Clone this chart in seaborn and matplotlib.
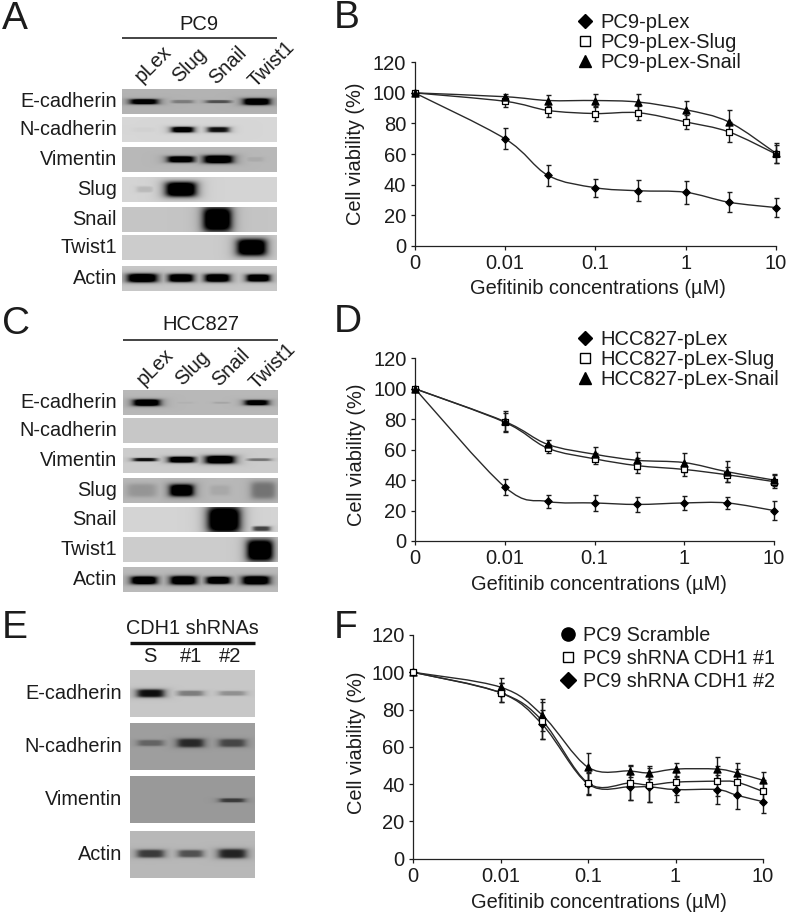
import numpy as np
import pandas as pd
import matplotlib
matplotlib.use("Agg")
import matplotlib.pyplot as plt
from matplotlib.path import Path
from matplotlib.patches import PathPatch
from matplotlib.lines import Line2D
import seaborn as sns

sns.set_style("ticks")
plt.rcParams['font.family'] = ['Liberation Sans', 'DejaVu Sans']
W, H = 788, 916
INK = "#1c1c1c"

# ---------- viability data ----------
dose_labels = ["0", "0.01", "0.1", "1", "10"]
dose_8 = [0, 0.01, 0.03, 0.1, 0.3, 1, 3, 10]
dose_10 = [0, 0.01, 0.03, 0.1, 0.3, 0.5, 1, 3, 5, 10]

b_plex = [100, 70, 46, 38, 36, 35, 28.5, 25]
b_plex_err = [0, 7, 7, 6, 7, 7.5, 6.5, 6]
b_slug = [100, 94.5, 88.5, 86.5, 87, 81, 74.5, 60]
b_slug_err = [0, 3.5, 4, 5, 4.5, 4.5, 6.5, 6]
b_snail = [100, 97.5, 95, 95, 94, 89, 81, 60.5]
b_snail_err = [0, 2, 3.5, 4.5, 5, 6, 8, 6.5]

d_plex = [100, 35.5, 26, 25, 24, 25, 25, 20]
d_plex_err = [0, 5.5, 4, 5.5, 5, 4.5, 4, 6.5]
d_slug = [100, 78, 61, 54, 49.5, 47, 43.5, 39]
d_slug_err = [0, 6, 3, 3.5, 5, 4.5, 5, 4.5]
d_snail = [100, 78.5, 63.5, 57, 53, 51.5, 45.5, 40]
d_snail_err = [0, 7, 3, 4.5, 5.5, 6, 7, 4]

f_top = [100, 92, 77, 49, 47, 46, 48, 48, 46, 42]
f_top_err = [0, 5, 8.5, 7.5, 3, 3.5, 3.5, 6.5, 5.5, 4.5]
f_sq = [100, 89, 74, 40.5, 40.5, 39.5, 41, 41.5, 41, 36]
f_sq_err = [0, 5, 10, 6, 9, 9, 7, 8, 7, 6]
f_dia = [100, 89, 72, 40, 38.5, 38.5, 37, 37, 34, 30.5]
f_dia_err = [0, 5, 8, 6, 7, 8, 6.5, 8, 7.5, 6]

b_legend = ["PC9-pLex", "PC9-pLex-Slug", "PC9-pLex-Snail"]
d_legend = ["HCC827-pLex", "HCC827-pLex-Slug", "HCC827-pLex-Snail"]
f_legend = ["PC9 Scramble", "PC9 shRNA CDH1 #1", "PC9 shRNA CDH1 #2"]

# ---------- blot data: per row, band darkness per lane (0-1) ----------
a_rows = ["E-cadherin", "N-cadherin", "Vimentin", "Slug", "Snail", "Twist1", "Actin"]
a_lanes = ["pLex", "Slug", "Snail", "Twist1"]
a_bg = [.70, .84, .72, .83, .77, .80, .78]
a_dark = [[.9, .25, .45, 1], [.02, .9, .75, 0], [0, .95, 1, .06], [.1, 1, 0, 0],
          [0, 0, 1, 0], [0, 0, 0, 1], [1, 1, 1, 1]]
a_cx = [[432, 548, 655, 770], [432, 548, 655, 770], [432, 543, 655, 765], [435, 543, 655, 770],
        [432, 548, 652, 770], [432, 548, 655, 755], [427, 543, 652, 775]]
a_bw = [[85, 65, 75, 80], [70, 68, 65, 50], [60, 80, 88, 50], [50, 92, 60, 60],
        [60, 60, 85, 60], [60, 60, 60, 88], [90, 75, 75, 70]]
a_bh = [[16, 10, 9, 20], [14, 17, 16, 10], [20, 19, 24, 14], [18, 44, 20, 20],
        [40, 40, 72, 40], [40, 40, 40, 50], [26, 24, 24, 22]]
a_cy = [305, 390, 478, 568, 658, 743, 833]
a_top = [267, 352, 441, 531, 621, 706, 797]

c_rows = a_rows
c_lanes = a_lanes
c_bg = [.72, .78, .80, .72, .83, .80, .73]
c_dark = [[1, .03, .08, .9], [0, 0, 0, 0], [.75, 1, 1, .35], [.15, 1, .07, .3],
          [0, 0, 1, .55], [0, 0, 0, 1], [1, 1, 1, 1]]
c_cx = [[440, 555, 665, 770], [440, 555, 665, 770], [435, 545, 660, 778], [425, 545, 660, 790],
        [440, 555, 672, 785], [440, 555, 665, 780], [432, 550, 655, 768]]
c_bw = [[80, 50, 50, 72], [50, 50, 50, 50], [70, 78, 88, 70], [90, 72, 60, 75],
        [50, 50, 98, 52], [50, 50, 50, 78], [78, 78, 72, 82]]
c_bh = [[20, 6, 6, 16], [10, 10, 10, 10], [10, 18, 24, 8], [40, 36, 30, 52],
        [40, 40, 78, 14], [40, 40, 40, 64], [24, 26, 22, 26]]
c_cy = [308, 392, 480, 572, 660, 750, 840]
c_top = [270, 355, 445, 535, 622, 710, 800]

e_rows = ["E-cadherin", "N-cadherin", "Vimentin", "Actin"]
e_lanes = ["S", "#1", "#2"]
e_bg = [.78, .62, .60, .72]
e_dark = [[.75, .30, .22], [.30, .60, .45], [0, 0, .50], [.55, .45, .65]]
e_cx = [[452, 572, 697]] * 4
e_bw = [[82, 78, 80], [78, 80, 80], [60, 60, 75], [82, 75, 84]]
e_bh = [[24, 16, 14], [18, 26, 24], [12, 12, 12], [24, 22, 28]]
e_cy = [280, 428, 600, 760]
e_top = [210, 368, 527, 692]


fig = plt.figure(figsize=(W / 100, H / 100), dpi=100)
fig.patch.set_facecolor("white")


def ptext(x, y, s, size, ha="center", va="center", **kw):
    fig.text(x / W, 1 - y / H, s, fontsize=size, ha=ha, va=va, color=INK, **kw)


def phline(x0, x1, y, lw):
    fig.add_artist(Line2D([x0 / W, x1 / W], [1 - y / H] * 2, color="#111111", lw=lw,
                          solid_capstyle="butt"))


def draw_blot(rows, lanes, bg, dark, cx, bw, bh, cy, top, yoff, x0, x1, row_h, lab_x, extra_y=None):
    """Zoom units are 3 per pixel; every row is a small greyscale heatmap."""
    for r, name in enumerate(rows):
        y0 = yoff + top[r] / 3
        y1 = y0 + row_h
        ax = fig.add_axes([x0 / W, 1 - y1 / H, (x1 - x0) / W, row_h / H])
        xs = (np.arange(int(x1 - x0)) + .5) + x0
        ys = (np.arange(int(row_h)) + .5) + y0
        X, Y = np.meshgrid(xs, ys)
        shade = np.zeros_like(X)
        for l in range(len(lanes)):
            band_y = cy[r] / 3 + yoff
            if extra_y and (r, l) in extra_y:
                band_y = extra_y[(r, l)] / 3 + yoff
            dx = (X - cx[r][l] / 3) / (bw[r][l] / 6)
            dy = (Y - band_y) / (bh[r][l] / 6)
            rad = (dx ** 4 + dy ** 4) ** .25
            shade = np.maximum(shade, dark[r][l] / (1 + rad ** 6))
        img = bg[r] * (1 - np.clip(shade * 1.25, 0, 1))
        sns.heatmap(img, ax=ax, cmap="gray", vmin=0, vmax=1, cbar=False,
                    xticklabels=False, yticklabels=False, linewidths=0, rasterized=True)
        ptext(lab_x, (y0 + y1) / 2, name, 14.3, ha="right")


draw_blot(a_rows, a_lanes, a_bg, a_dark, a_cx, a_bw, a_bh, a_cy, a_top, 0, 122, 277, 25, 117)
draw_blot(c_rows, c_lanes, c_bg, c_dark, c_cx, c_bw, c_bh, c_cy, c_top, 300, 123, 278, 25, 117,
          extra_y={(4, 3): 687})
draw_blot(e_rows, e_lanes, e_bg, e_dark, e_cx, e_bw, e_bh, e_cy, e_top, 600, 130, 255, 47, 122)

# blot headers
ptext(199, 24, "PC9", 14.5)
phline(122, 277, 38, 1.1)
for x, y, s in zip([153, 190, 228, 272], [64, 65, 65, 64], a_lanes):
    ptext(x, y, s, 14.3, rotation=45)
ptext(201, 325, "HCC827", 14.5)
phline(123, 278, 340, 1.1)
for x, y, s in zip([155, 193, 231, 273], [367, 368, 367, 366], c_lanes):
    ptext(x, y, s, 14.3, rotation=45)
ptext(192, 628, "CDH1 shRNAs", 14.3)
phline(130, 255, 642.5, 2.4)
for x, s in zip([150, 191, 230], e_lanes):
    ptext(x, 657, s, 14.5)

# panel letters
for x, y, s in [(2, 19, "A"), (334, 18, "B"), (2, 324, "C"), (334, 322, "D"), (2, 628, "E"), (334, 628, "F")]:
    ptext(x, y, s, 28, ha="left")


def dose_pos(dose):
    return [0 if d == 0 else np.log10(d) + 3 for d in dose]


def smooth_line(ax, x, y):
    p = np.column_stack([x, y]).astype(float)
    verts = [p[0]]
    codes = [Path.MOVETO]
    for i in range(len(p) - 1):
        prev = p[max(i - 1, 0)]
        nxt = p[min(i + 2, len(p) - 1)]
        verts += [p[i] + (p[i + 1] - prev) / 6, p[i + 1] - (nxt - p[i]) / 6, p[i + 1]]
        codes += [Path.CURVE4] * 3
    ax.add_patch(PathPatch(Path(verts, codes), fill=False, ec="#2a2a2a", lw=1.0, zorder=2))


def viability(box, dose, series, legend_names, legend_markers, legend_xy, legend_size, spacing,
              xlab_xy, ylab_y):
    x0, x1, y_top, y_bot = box
    ax = fig.add_axes([x0 / W, 1 - y_bot / H, (x1 - x0) / W, (y_bot - y_top) / H])
    pos = dose_pos(dose)
    for vals, errs, marker, face, size in series:
        smooth_line(ax, pos, vals)
        ax.errorbar(pos, vals, yerr=errs, fmt="none", ecolor="#1a1a1a", elinewidth=1.0,
                    capsize=1.8, capthick=1.0, clip_on=False, zorder=3)
        df = pd.DataFrame({"x": pos, "y": vals})
        sns.scatterplot(data=df, x="x", y="y", marker=marker, s=size, color=face,
                        edgecolor="black", linewidth=0.9, ax=ax, clip_on=False, zorder=4, legend=False)
    ax.set_xlim(0, 4)
    ax.set_ylim(0, 120)
    ax.set_xticks(range(5))
    ax.set_xticklabels(dose_labels)
    ax.set_yticks(range(0, 121, 20))
    ax.tick_params(labelsize=14.5, length=2.8, width=0.9, pad=3.2, colors=INK)
    sns.despine(ax=ax)
    for s in ("left", "bottom"):
        ax.spines[s].set_linewidth(0.9)
        ax.spines[s].set_color("#222222")
    ax.set_xlabel("Gefitinib concentrations (\u00b5M)", fontsize=14.4, color=INK, va="center")
    ax.set_ylabel("Cell viability (%)", fontsize=14.4, color=INK, va="center")
    ax.yaxis.set_label_coords((356 - x0) / (x1 - x0), (y_bot - ylab_y) / (y_bot - y_top))
    ax.xaxis.set_label_coords((xlab_xy[0] - x0) / (x1 - x0), (y_bot - xlab_xy[1]) / (y_bot - y_top))
    handles = [Line2D([], [], ls="none", marker=m, ms=ms, mfc=fc, mec="black", mew=1)
               for m, fc, ms in legend_markers]
    ax.legend(handles, legend_names, loc="upper left", frameon=False, fontsize=legend_size,
              bbox_to_anchor=(legend_xy[0] / W, 1 - legend_xy[1] / H), bbox_transform=fig.transFigure,
              handlelength=0.8, handletextpad=0.35, labelspacing=spacing, borderpad=0, borderaxespad=0,
              labelcolor=INK)
    return ax


leg_std = [("D", "black", 7.5), ("s", "white", 7), ("^", "black", 8)]
leg_f = [("o", "black", 9.5), ("s", "white", 7.5), ("D", "black", 8)]

viability((414.7, 776, 62.3, 245.8), dose_8,
          [(b_plex, b_plex_err, "D", "black", 14),
           (b_slug, b_slug_err, "s", "white", 24),
           (b_snail, b_snail_err, "^", "black", 26)],
          b_legend, leg_std, (577, 13), 14.5, 0.06, (598, 288), 154)
viability((415, 774, 358.3, 541), dose_8,
          [(d_plex, d_plex_err, "D", "black", 14),
           (d_slug, d_slug_err, "s", "white", 24),
           (d_snail, d_snail_err, "^", "black", 26)],
          d_legend, leg_std, (577, 330), 14.5, 0.06, (599, 584), 455)
viability((413, 763, 635, 858.5), dose_10,
          [(f_dia, f_dia_err, "D", "black", 14),
           (f_top, f_top_err, "^", "black", 26),
           (f_sq, f_sq_err, "s", "white", 24)],
          f_legend, leg_f, (560, 626), 14.2, 0.2, (599, 903), 743)

fig.savefig("out.png", dpi=100, facecolor="white")
